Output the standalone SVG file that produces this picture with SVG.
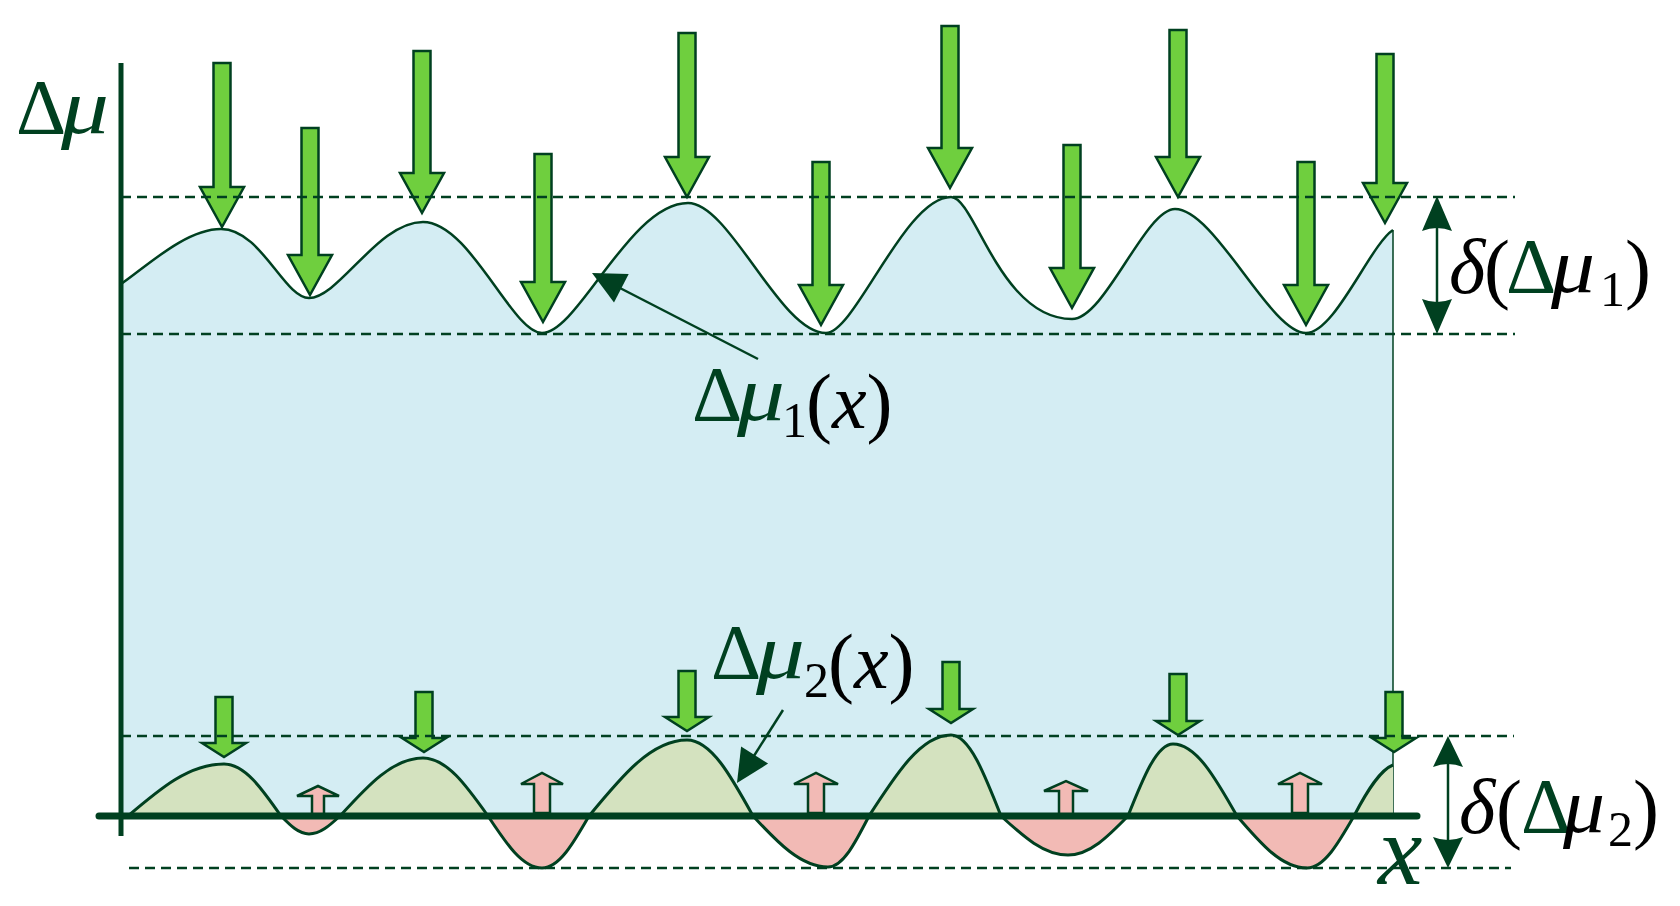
<svg xmlns="http://www.w3.org/2000/svg" width="1680" height="906" viewBox="0 0 1680 906">
<style>
.dk{fill:none;stroke:#004020;}
.dash{fill:none;stroke:#004020;stroke-width:2.5;stroke-dasharray:10 6;}
.ga{fill:#6fcf3e;stroke:#004020;stroke-width:2.5;stroke-linejoin:miter;}
.pa{fill:#f2bab5;stroke:#004020;stroke-width:2.5;}
.hd{fill:#004020;stroke:none;}
.g{fill:#004020;}
.b{fill:#000;}
.i{font-style:italic;}
.sub{font-size:50px;}
text{font-family:'Liberation Serif','Times New Roman',serif;font-size:78px;}
</style>
<defs>
<clipPath id="above"><rect x="0" y="0" width="1680" height="816"/></clipPath>
<clipPath id="below"><rect x="0" y="816" width="1680" height="90"/></clipPath>
</defs>
<rect width="1680" height="906" fill="#fff"/>

<g id="region-fill">
<path fill="#d4edf3" d="M121,284 C145,268 185,229 221,229 C261,229 284,298 309,298 C339,298 378,222 423,222 C470,222 512,333 542,333 C578,333 630,203 688,203 C730,203 780,333 826,333 C855,333 905,197 951,197 C975,197 1000,319 1072,319 C1105,319 1145,209 1175,209 C1215,209 1270,333 1306,333 C1335,333 1370,245 1393,230 L1393,816 L121,816 Z"/>
<line class="dk" x1="1393" y1="230" x2="1393" y2="816" stroke-width="1.5"/>
</g>

<g id="mu2-lobes">
<path id="lobe-green" clip-path="url(#above)" fill="#d4e2bf" d="M128,816 C160,788.7 189,764 224,764 C244.7,764 262,788.7 281,816 C290.4,825.5 298.8,834 309,834 C320.3,834 329.6,825.5 340,816 C367.7,785.5 392.9,758 423,758 C446.6,758 466.3,785.5 488,816 C506,843.3 522.4,868 542,868 C559.1,868 573.3,843.3 589,816 C621.7,776.1 651.4,740 687,740 C711,740 731,776.1 753,816 C778,842.8 800.8,867 828,867 C842.9,867 855.3,842.8 869,816 C896.4,773.5 921.2,735 951,735 C969.2,735 984.3,773.5 1001,816 C1023.4,836.5 1043.7,855 1068,855 C1089.8,855 1108,836.5 1128,816 C1143,778.2 1156.7,744 1173,744 C1196.2,744 1215.6,778.2 1237,816 C1260.4,843.3 1281.6,868 1307,868 C1324.1,868 1338.3,843.3 1354,816 C1367,791 1380,770 1393,765 L1393,816 Z"/>
<path id="lobe-pink" clip-path="url(#below)" fill="#f2bab5" d="M128,816 C160,788.7 189,764 224,764 C244.7,764 262,788.7 281,816 C290.4,825.5 298.8,834 309,834 C320.3,834 329.6,825.5 340,816 C367.7,785.5 392.9,758 423,758 C446.6,758 466.3,785.5 488,816 C506,843.3 522.4,868 542,868 C559.1,868 573.3,843.3 589,816 C621.7,776.1 651.4,740 687,740 C711,740 731,776.1 753,816 C778,842.8 800.8,867 828,867 C842.9,867 855.3,842.8 869,816 C896.4,773.5 921.2,735 951,735 C969.2,735 984.3,773.5 1001,816 C1023.4,836.5 1043.7,855 1068,855 C1089.8,855 1108,836.5 1128,816 C1143,778.2 1156.7,744 1173,744 C1196.2,744 1215.6,778.2 1237,816 C1260.4,843.3 1281.6,868 1307,868 C1324.1,868 1338.3,843.3 1354,816 C1367,791 1380,770 1393,765 L1393,816 Z"/>
</g>

<g id="curves">
<path id="curve-mu1" class="dk" stroke-width="2.5" d="M121,284 C145,268 185,229 221,229 C261,229 284,298 309,298 C339,298 378,222 423,222 C470,222 512,333 542,333 C578,333 630,203 688,203 C730,203 780,333 826,333 C855,333 905,197 951,197 C975,197 1000,319 1072,319 C1105,319 1145,209 1175,209 C1215,209 1270,333 1306,333 C1335,333 1370,245 1393,230"/>
<path id="curve-mu2" class="dk" stroke-width="3" d="M128,816 C160,788.7 189,764 224,764 C244.7,764 262,788.7 281,816 C290.4,825.5 298.8,834 309,834 C320.3,834 329.6,825.5 340,816 C367.7,785.5 392.9,758 423,758 C446.6,758 466.3,785.5 488,816 C506,843.3 522.4,868 542,868 C559.1,868 573.3,843.3 589,816 C621.7,776.1 651.4,740 687,740 C711,740 731,776.1 753,816 C778,842.8 800.8,867 828,867 C842.9,867 855.3,842.8 869,816 C896.4,773.5 921.2,735 951,735 C969.2,735 984.3,773.5 1001,816 C1023.4,836.5 1043.7,855 1068,855 C1089.8,855 1108,836.5 1128,816 C1143,778.2 1156.7,744 1173,744 C1196.2,744 1215.6,778.2 1237,816 C1260.4,843.3 1281.6,868 1307,868 C1324.1,868 1338.3,843.3 1354,816 C1367,791 1380,770 1393,765"/>
</g>

<g id="pink-arrows">
<path class="pa" d="M312,815 V796 H297 L318,786 L339,796 H324 V815 Z"/>
<path class="pa" d="M534,813 V784 H521 L542,773 L563,784 H550 V813 Z"/>
<path class="pa" d="M808,813 V784 H794 L816,773 L838,784 H824 V813 Z"/>
<path class="pa" d="M1059,815 V791 H1044 L1066,781 L1088,791 H1073 V815 Z"/>
<path class="pa" d="M1292,813 V784 H1278 L1300,773 L1322,784 H1308 V813 Z"/>
</g>

<g id="axes">
<line id="y-axis" class="dk" x1="121" y1="63" x2="121" y2="836" stroke-width="5"/>
<line id="x-axis" class="dk" x1="99" y1="816" x2="1417" y2="816" stroke-width="7" stroke-linecap="round"/>
</g>

<g id="big-arrows">
<path class="ga" d="M213.5,63 H230.5 V187 H244 L222,227 L200,187 H213.5 Z"/>
<path class="ga" d="M301.5,128 H318.5 V255 H332 L310,295 L288,255 H301.5 Z"/>
<path class="ga" d="M413.5,51 H430.5 V173 H444 L422,213 L400,173 H413.5 Z"/>
<path class="ga" d="M534.5,154 H551.5 V282 H565 L543,322 L521,282 H534.5 Z"/>
<path class="ga" d="M678.5,33 H695.5 V157 H709 L687,197 L665,157 H678.5 Z"/>
<path class="ga" d="M812.5,162 H829.5 V285 H843 L821,325 L799,285 H812.5 Z"/>
<path class="ga" d="M941.5,26 H958.5 V148 H972 L950,188 L928,148 H941.5 Z"/>
<path class="ga" d="M1063.5,145 H1080.5 V268 H1094 L1072,308 L1050,268 H1063.5 Z"/>
<path class="ga" d="M1169.5,30 H1186.5 V157 H1200 L1178,197 L1156,157 H1169.5 Z"/>
<path class="ga" d="M1297.5,162 H1314.5 V285 H1328 L1306,325 L1284,285 H1297.5 Z"/>
<path class="ga" d="M1376.5,54 H1393.5 V183 H1407 L1385,223 L1363,183 H1376.5 Z"/>
</g>

<g id="small-arrows">
<path class="ga" d="M215.5,697 H232.5 V743 H246 L224,757 L202,743 H215.5 Z"/>
<path class="ga" d="M415.5,692 H432.5 V738 H446 L424,752 L402,738 H415.5 Z"/>
<path class="ga" d="M678.5,671 H695.5 V717 H709 L687,731 L665,717 H678.5 Z"/>
<path class="ga" d="M942.5,662 H959.5 V709 H973 L951,723 L929,709 H942.5 Z"/>
<path class="ga" d="M1169.5,674 H1186.5 V721 H1200 L1178,735 L1156,721 H1169.5 Z"/>
<path class="ga" d="M1385.5,692 H1402.5 V738 H1416 L1394,752 L1372,738 H1385.5 Z"/>
</g>

<g id="dashed-levels">
<line class="dash" x1="121" y1="197" x2="1515" y2="197"/>
<line class="dash" x1="121" y1="334" x2="1515" y2="334"/>
<line class="dash" x1="121" y1="736" x2="1514" y2="736"/>
<line class="dash" x1="129" y1="868" x2="1511" y2="868"/>
</g>

<g id="connectors">
<g id="delta1-range">
<line class="dk" x1="1437" y1="220" x2="1437" y2="310" stroke-width="2.5"/>
<path class="hd" d="M1437,196 L1452,231 Q1437,225 1422,231 Z"/>
<path class="hd" d="M1437,334 L1452,299 Q1437,305 1422,299 Z"/>
</g>
<g id="delta2-range">
<line class="dk" x1="1448" y1="756" x2="1448" y2="848" stroke-width="2.5"/>
<path class="hd" d="M1448,736 L1463,767 Q1448,761 1433,767 Z"/>
<path class="hd" d="M1448,868 L1463,837 Q1448,843 1433,837 Z"/>
</g>
<g id="mu1-pointer">
<line class="dk" x1="758" y1="359" x2="618" y2="287" stroke-width="2.5"/>
<path class="hd" d="M592,273 L628.7,274 L614,302.4 Z"/>
</g>
<g id="mu2-pointer">
<line class="dk" x1="783" y1="710" x2="752" y2="759" stroke-width="2.5"/>
<path class="hd" d="M737,783 L768.1,763.6 L741.1,746.6 Z"/>
</g>
</g>

<g id="labels">
<g id="label-dmu">
<text x="16" y="133" class="g">Δ</text>
<text x="61" y="133" class="g i" textLength="48" lengthAdjust="spacingAndGlyphs">μ</text>
</g>
<g id="label-mu1">
<text x="692" y="420" class="g">Δ</text>
<text x="737" y="420" class="g i" textLength="48" lengthAdjust="spacingAndGlyphs">μ</text>
<text x="782" y="437" class="b sub">1</text>
<text x="806" y="428" class="b">(<tspan class="i">x</tspan>)</text>
</g>
<g id="label-mu2">
<text x="711" y="678" class="g">Δ</text>
<text x="756" y="678" class="g i" textLength="49" lengthAdjust="spacingAndGlyphs">μ</text>
<text x="804" y="697" class="b sub">2</text>
<text x="828" y="688" class="b">(<tspan class="i">x</tspan>)</text>
</g>
<g id="label-delta1">
<text x="1449" y="293" class="b i">δ</text>
<text x="1484" y="294" class="b">(</text>
<text x="1506" y="292" class="g">Δ</text>
<text x="1551" y="292" class="b i" textLength="44" lengthAdjust="spacingAndGlyphs">μ</text>
<text x="1600" y="306" class="b sub">1</text>
<text x="1625" y="294" class="b">)</text>
</g>
<g id="label-delta2">
<text x="1459" y="833" class="b i">δ</text>
<text x="1496" y="834" class="b">(</text>
<text x="1521" y="832" class="g">Δ</text>
<text x="1563" y="832" class="b i" textLength="42" lengthAdjust="spacingAndGlyphs">μ</text>
<text x="1608" y="846" class="b sub">2</text>
<text x="1633" y="834" class="b">)</text>
</g>
<text id="label-x" x="1378" y="884" class="g i" style="font-size:100px">x</text>
</g>
</svg>
